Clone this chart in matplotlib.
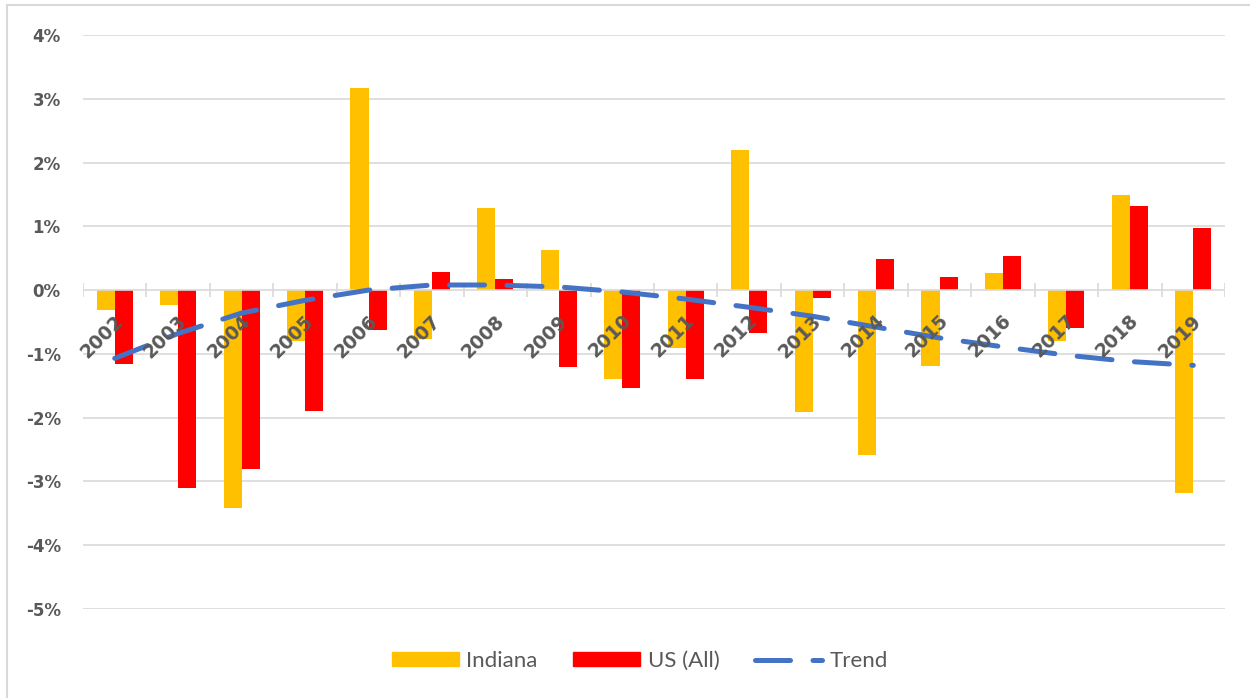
import matplotlib.pyplot as plt
import numpy as np
from matplotlib.lines import Line2D

years = [str(y) for y in range(2002, 2020)]
indiana = [-0.31, -0.24, -3.42, -0.80, 3.17, -0.77, 1.29, 0.63, -1.39, -0.91,
           2.19, -1.91, -2.59, -1.19, 0.27, -0.80, 1.49, -3.18]
us_all = [-1.16, -3.10, -2.80, -1.90, -0.63, 0.28, 0.17, -1.21, -1.54, -1.39,
          -0.68, -0.12, 0.49, 0.20, 0.53, -0.60, 1.32, 0.97]
trend = [-1.07, -0.68, -0.36, -0.16, 0.00, 0.08, 0.08, 0.05, -0.03, -0.14,
         -0.27, -0.41, -0.58, -0.75, -0.89, -1.02, -1.12, -1.18]
y_ticks = [4, 3, 2, 1, 0, -1, -2, -3, -4, -5]

YELLOW = "#FFC000"
RED = "#FF0000"
BLUE = "#4472C4"
GRID = "#D9D9D9"
TEXT = "#595959"
TICK_FONT = ["DejaVu Sans"]

plt.rcParams["font.family"] = ["Lato", "DejaVu Sans"]

fig = plt.figure(figsize=(12.5, 6.98), dpi=100)
ax = fig.add_axes([0.0664, 0.1275, 0.9136, 0.8224])

x = np.arange(len(years))
w = 0.284
ax.bar(x - w / 2, indiana, width=w, color=YELLOW, zorder=2, label="Indiana")
ax.bar(x + w / 2, us_all, width=w, color=RED, zorder=2, label="US (All)")
ax.plot(x, trend, color=BLUE, lw=3.6, dashes=(7, 4.5), dash_capstyle="round",
        zorder=4, label="Trend")

ax.set_xlim(-0.5, len(years) - 0.5)
ax.set_ylim(-5, 4)
ax.set_yticks(y_ticks)
ax.set_yticklabels([f"{t}%" for t in y_ticks], fontsize=12, fontweight="bold",
                   family=TICK_FONT, color=TEXT)
ax.tick_params(axis="y", length=0, pad=16)
ax.set_xticks([])
for s in ax.spines.values():
    s.set_visible(False)
for t in y_ticks:
    ax.axhline(t, color=GRID, lw=1.2, zorder=1 if t != 0 else 3)
# category tick marks on the zero line
ax.vlines(np.arange(-0.5, len(years)), -0.11, 0.11, color=GRID, lw=1.2, zorder=3)

for i, yr in enumerate(years):
    ax.annotate(yr, xy=(i, 0), xytext=(4, -20), textcoords="offset points",
                rotation=45, rotation_mode="anchor", ha="right", va="center",
                fontsize=13.5, fontweight="bold", family=TICK_FONT, color=TEXT,
                zorder=5)

handles = [
    plt.Rectangle((0, 0), 1, 1, color=YELLOW),
    plt.Rectangle((0, 0), 1, 1, color=RED),
    Line2D([], [], color=BLUE, lw=3.6, dashes=(7, 4.5), dash_capstyle="round"),
]
leg = fig.legend(handles, ["Indiana", "US (All)", "Trend"], loc="center",
                 bbox_to_anchor=(0.512, 0.053), ncol=3, frameon=False,
                 fontsize=16, handlelength=3.0, handleheight=0.6,
                 columnspacing=1.6, handletextpad=0.35)
for t in leg.get_texts():
    t.set_color(TEXT)

# chart-area border (top and left edges visible in the crop)
fig.add_artist(Line2D([0.0056, 1.0], [0.9935, 0.9935], color=GRID, lw=1.5,
                      transform=fig.transFigure))
fig.add_artist(Line2D([0.0056, 0.0056], [0.0, 0.9935], color=GRID, lw=1.5,
                      transform=fig.transFigure))

fig.savefig("out.png", dpi=100)
